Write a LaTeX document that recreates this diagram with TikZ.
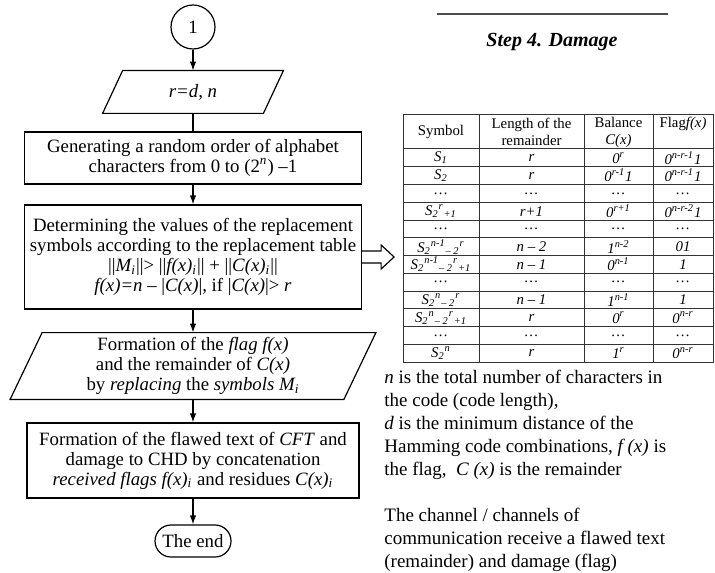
\documentclass[tikz,border=0pt]{standalone}
\usepackage{fontspec}
\setmainfont{Liberation Serif}
\usetikzlibrary{arrows.meta,calc}

% font sizes
\newcommand{\mainfs}{\fontsize{9.4}{10}\selectfont}
\newcommand{\notefs}{\fontsize{9.5}{11.5}\selectfont}
\newcommand{\cellfs}{\fontsize{7.4}{8.5}\selectfont}
% shorthands for raised and lowered indices
\newcommand{\up}[1]{\textsuperscript{#1}}
\newcommand{\dn}[1]{\textsubscript{#1}}

\tikzset{
  x=0.5pt, y=-0.5pt,
  outline/.style={draw, line width=0.6pt},
  flowbox/.style={outline, rectangle, align=center, inner sep=0pt, font=\mainfs},
  helper/.style={rectangle, align=center, inner sep=0pt, font=\mainfs},
  conn/.style={line width=0.6pt, -{Latex[length=4.5pt,width=3.2pt]}},
  plain/.style={line width=0.6pt},
  grid/.style={draw=black!80, line width=0.5pt},
  cell/.style={inner sep=0pt, font=\cellfs, align=center},
}

% one body row of the replacement table
\newcommand{\tabrow}[5]{%
  \node[cell] (s#1) at (441,{149+(#1-0.5)*17.75}) {\itshape #2};
  \node[cell] (l#1) at (531.5,{149+(#1-0.5)*17.75}) {\itshape #3};
  \node[cell] (b#1) at (618.5,{149+(#1-0.5)*17.75}) {\itshape #4};
  \node[cell] (f#1) at (683,{149+(#1-0.5)*17.75}) {\itshape #5};
}

\begin{document}
\begin{tikzpicture}
\useasboundingbox (0,0) rectangle (715,572);

% ---------------- flowchart ----------------
\node[outline, circle, minimum size=22pt, inner sep=0pt, font=\mainfs] (start) at (193,27) {1};

\node[helper, minimum width=80pt, minimum height=21pt] (inp) at (193,92) {\textit{r=d, n}};
\draw[plain] ($(inp.north west)+(10,0)$) -- ($(inp.north east)+(10,0)$)
  -- ($(inp.south east)+(-10,0)$) -- ($(inp.south west)+(-10,0)$) -- cycle;

\node[flowbox, minimum width=168.5pt, minimum height=26pt] (gen) at (193,158)
  {Generating a random order of alphabet\\
   characters from 0 to (2\up{\textit{n}}) –1};

\node[flowbox, minimum width=168.5pt, minimum height=52pt] (det) at (193,257)
  {Determining the values of the replacement\\
   symbols according to the replacement table\\
   ||\textit{M\dn{i}}||> ||\textit{f(x)\dn{i}}|| + ||\textit{C(x)\dn{i}}||\\
   \textit{f(x)=n} – |\textit{C(x)}|, if |\textit{C(x)}|> \textit{r}};

\node[helper, minimum width=166.5pt, minimum height=33pt] (form) at (193,366)
  {Formation of the \textit{flag f(x)}\\
   and the remainder of \textit{C(x)}\\
   by \textit{replacing} the \textit{symbols M\dn{i}}};
\draw[plain] ($(form.north west)+(16,0)$) -- ($(form.north east)+(16,0)$)
  -- ($(form.south east)+(-16,0)$) -- ($(form.south west)+(-16,0)$) -- cycle;

\node[flowbox, minimum width=166pt, minimum height=37.5pt] (cat) at (193,460.5)
  {Formation of the flawed text of \textit{CFT} and\\
   damage to CHD by concatenation\\
   \textit{received flags f(x)\dn{i}} and residues \textit{C(x)\dn{i}}};

\node[outline, rectangle, rounded corners=8pt, minimum width=38pt, minimum height=16pt,
  inner sep=0pt, font=\mainfs] (stop) at (193,541) {The end};

\draw[conn] (start.south) -- (inp.north);
\draw[plain] (inp.south) -- (gen.north);
\draw[conn] (gen.south) -- (det.north);
\draw[conn] (det.south) -- (form.north);
\draw[conn] (form.south) -- (cat.north);
\draw[conn] (cat.south) -- (stop.north);

% hollow arrow towards the table
\draw[plain, fill=white] ($(det.east)+(0,-6)$) -- ++(19,0) -- ++(0,-6) -- ++(13,12)
  -- ++(-13,12) -- ++(0,-6) -- ++(-19,0);

% ---------------- title ----------------
\draw[draw=black!70, line width=0.7pt] (437,14) -- (668,14);
\node[font=\fontsize{10}{12}\selectfont\bfseries\itshape] (title) at (552,42) {Step 4. Damage};

% ---------------- replacement table ----------------
\draw[grid] (403,115) rectangle (713,362);
\foreach \k in {0,...,11} {\draw[grid] (403,{149+\k*17.75}) -- (713,{149+\k*17.75});}
\foreach \x in {479,584,653} {\draw[grid] (\x,115) -- (\x,362);}

\node[cell] (h1) at (441,132) {Symbol};
\node[cell] (h2) at (531.5,132) {Length of the\\remainder};
\node[cell] (h3) at (618.5,132) {Balance\\\textit{C(x)}};
\node[cell] (h4) at (683,124) {Flag\textit{f(x)}};

\tabrow{1}{S\dn{1}}{r}{0\up{r}}{0\up{n-r-1}1}
\tabrow{2}{S\dn{2}}{r}{0\up{r-1}1}{0\up{n-r-1}1}
\tabrow{3}{…}{…}{…}{…}
\tabrow{4}{S\dn{2}\up{r}\dn{+1}}{r+1}{0\up{r+1}}{0\up{n-r-2}1}
\tabrow{5}{…}{…}{…}{…}
\tabrow{6}{S\dn{2}\up{n-1}\dn{– 2}\up{r}}{n – 2}{1\up{n-2}}{01}
\tabrow{7}{S\dn{2}\up{n-1}\dn{– 2}\up{r}\dn{+1}}{n – 1}{0\up{n-1}}{1}
\tabrow{8}{…}{…}{…}{…}
\tabrow{9}{S\dn{2}\up{n}\dn{– 2}\up{r}}{n – 1}{1\up{n-1}}{1}
\tabrow{10}{S\dn{2}\up{n}\dn{– 2}\up{r}\dn{+1}}{r}{0\up{r}}{0\up{n-r}}
\tabrow{11}{…}{…}{…}{…}
\tabrow{12}{S\dn{2}\up{n}}{r}{1\up{r}}{0\up{n-r}}

% ---------------- notes ----------------
\node[anchor=north west, align=left, inner sep=0pt, font=\notefs] (note) at (384,370)
  {\textit{n} is the total number of characters in\\
   the code (code length),\\
   \textit{d} is the minimum distance of the\\
   Hamming code combinations, \textit{f (x)} is\\
   the flag,\ \ \textit{C (x)} is the remainder\\[11.5pt]
   The channel / channels of\\
   communication receive a flawed text\\
   (remainder) and damage (flag)};
\end{tikzpicture}
\end{document}
